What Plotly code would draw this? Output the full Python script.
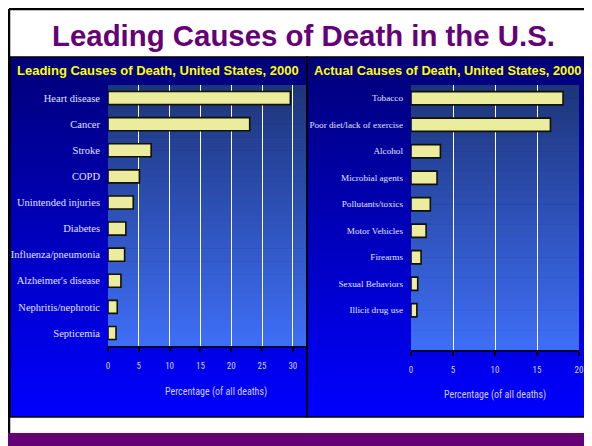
import plotly.graph_objects as go

# ---------------- data ----------------
leading_causes = ["Heart disease", "Cancer", "Stroke", "COPD", "Unintended injuries",
                  "Diabetes", "Influenza/pneumonia", "Alzheimer's disease",
                  "Nephritis/nephrotic", "Septicemia"]
leading_pct = [29.6, 23.0, 7.0, 5.1, 4.1, 2.9, 2.7, 2.1, 1.5, 1.3]

actual_causes = ["Tobacco", "Poor diet/lack of exercise", "Alcohol", "Microbial agents",
                 "Pollutants/toxics", "Motor Vehicles", "Firearms", "Sexual Behaviors",
                 "Illicit drug use"]
actual_pct = [18.1, 16.6, 3.5, 3.1, 2.3, 1.8, 1.2, 0.8, 0.7]

left_ticks = [0, 5, 10, 15, 20, 25, 30]
right_ticks = [0, 5, 10, 15, 20]

main_title = "Leading Causes of Death in the U.S."
left_title = "Leading Causes of Death, United States, 2000"
right_title = "Actual Causes of Death, United States, 2000"
x_title = "Percentage (of all deaths)"

# ---------------- layout helpers ----------------
# the page puts the figure 8px in from the top-left corner; the visible
# area ends about 8px before the right edge of the window
OX, OY = 8, 8
W, H = 584 - OX, 446 - OY


def fx(x):
    return (x - OX) / W


def fy(y):
    return 1 - (y - OY) / H


def hex2rgb(h):
    h = h.lstrip("#")
    return tuple(int(h[i:i + 2], 16) for i in (0, 2, 4))


def lerp(c1, c2, t):
    a, b = hex2rgb(c1), hex2rgb(c2)
    return "rgb(%d,%d,%d)" % tuple(round(a[i] + (b[i] - a[i]) * t) for i in range(3))


def gradient(x0, x1, y0, y1, ctop, cbot, n=40):
    out = []
    step = (y1 - y0) / n
    for i in range(n):
        ya = y0 + i * step
        yb = min(y1, ya + step + 0.6)
        out.append(dict(type="rect", xref="paper", yref="paper", layer="below",
                        x0=fx(x0), x1=fx(x1), y0=fy(yb), y1=fy(ya),
                        fillcolor=lerp(ctop, cbot, (i + 0.5) / n), line=dict(width=0)))
    return out


PANEL_TOP, PANEL_BOT = 57, 417
L_X0, L_X1, L_YT, L_YB = 108, 307, 85, 346
R_X0, R_X1, R_YT, R_YB = 411, 579, 85, 350

shapes = []
shapes += gradient(10, 586, PANEL_TOP, PANEL_BOT, "#000078", "#0000ff", 45)
shapes += gradient(L_X0, L_X1, L_YT, L_YB, "#1d3478", "#3e6ff7", 40)
shapes += gradient(R_X0, R_X1, R_YT, R_YB, "#1d3478", "#3e6ff7", 40)
shapes.append(dict(type="rect", xref="paper", yref="paper", layer="below",
                   x0=0, x1=1, y0=0, y1=fy(433), fillcolor="#660077", line=dict(width=0)))
shapes.append(dict(type="rect", xref="paper", yref="paper", layer="above",
                   x0=fx(10), x1=fx(307), y0=fy(PANEL_BOT), y1=fy(PANEL_TOP),
                   fillcolor="rgba(0,0,0,0)", line=dict(color="black", width=1.5)))
shapes.append(dict(type="rect", xref="paper", yref="paper", layer="above",
                   x0=fx(307), x1=fx(590), y0=fy(PANEL_BOT), y1=fy(PANEL_TOP),
                   fillcolor="rgba(0,0,0,0)", line=dict(color="black", width=1.5)))
shapes.append(dict(type="line", xref="paper", yref="paper", layer="above",
                   x0=fx(9), x1=fx(9), y0=fy(433), y1=fy(9),
                   line=dict(color="black", width=2.5)))
shapes.append(dict(type="line", xref="paper", yref="paper", layer="above",
                   x0=fx(9), x1=1, y0=fy(9), y1=fy(9),
                   line=dict(color="black", width=2.5)))

bar_marker = dict(color="#ecec9e", line=dict(color="#111100", width=1.6))

fig = go.Figure()
fig.add_trace(go.Bar(x=leading_pct, y=leading_causes, orientation="h",
                     marker=bar_marker, xaxis="x", yaxis="y", hoverinfo="x+y"))
fig.add_trace(go.Bar(x=actual_pct, y=actual_causes, orientation="h",
                     marker=bar_marker, xaxis="x2", yaxis="y2", hoverinfo="x+y"))

narrow = ("Liberation Sans Narrow, Roboto Condensed, Noto Sans Condensed, "
          "Open Sans Condensed, DejaVu Sans Condensed, Liberation Sans, sans-serif")
serif = "Liberation Serif, Times New Roman, serif"
sans = "Liberation Sans, Arial, sans-serif"

xcommon = dict(showgrid=True, gridcolor="white", gridwidth=1, zeroline=False,
               showline=True, linecolor="#000033", linewidth=2,
               ticks="outside", ticklen=4, tickcolor="black", tickwidth=1.5,
               tickfont=dict(family=narrow, size=9, color="#d0d0ff"),
               ticklabelstandoff=6, fixedrange=True, automargin=False)
ycommon = dict(type="category", autorange=False, range=[9.5, -0.5], showgrid=False,
               zeroline=False, showline=False, ticks="",
               ticklabelstandoff=7, fixedrange=True, automargin=False)

fig.update_layout(
    width=W, height=H, margin=dict(l=0, r=0, t=0, b=0, autoexpand=False),
    paper_bgcolor="white", plot_bgcolor="rgba(0,0,0,0)",
    showlegend=False, bargap=0.5,
    xaxis=dict(domain=[fx(L_X0), fx(L_X1)], range=[0, 32.3], tickvals=left_ticks,
               anchor="y", **xcommon),
    yaxis=dict(domain=[fy(L_YB), fy(L_YT)], anchor="x",
               categoryorder="array", categoryarray=leading_causes,
               tickfont=dict(family=serif, size=10.5, color="#e0e0ff"), **ycommon),
    xaxis2=dict(domain=[fx(R_X0), fx(R_X1)], range=[0, 20], tickvals=right_ticks,
                anchor="y2", **xcommon),
    yaxis2=dict(domain=[fy(R_YB), fy(R_YT)], anchor="x2",
                categoryorder="array", categoryarray=actual_causes,
                tickfont=dict(family=serif, size=9.2, color="#e0e0ff"), **ycommon),
    shapes=shapes,
    annotations=[
        dict(text="<b>%s</b>" % main_title, xref="paper", yref="paper",
             x=fx(303), y=fy(35), xanchor="center", yanchor="middle", showarrow=False,
             font=dict(family=sans, size=29.4, color="#660077")),
        dict(text="<b>%s</b>" % left_title, xref="paper", yref="paper",
             x=fx(158), y=fy(70), xanchor="center", yanchor="middle", showarrow=False,
             font=dict(family=sans, size=13, color="#ffff00")),
        dict(text="<b>%s</b>" % right_title, xref="paper", yref="paper",
             x=fx(447), y=fy(70), xanchor="center", yanchor="middle", showarrow=False,
             font=dict(family=sans, size=12.8, color="#ffff00")),
        dict(text=x_title, xref="paper", yref="paper",
             x=fx(216), y=fy(392), xanchor="center", yanchor="middle", showarrow=False,
             font=dict(family=narrow, size=10, color="#ccccff")),
        dict(text=x_title, xref="paper", yref="paper",
             x=fx(495), y=fy(395), xanchor="center", yanchor="middle", showarrow=False,
             font=dict(family=narrow, size=10, color="#ccccff")),
    ],
)

fig.write_html("out.html")
